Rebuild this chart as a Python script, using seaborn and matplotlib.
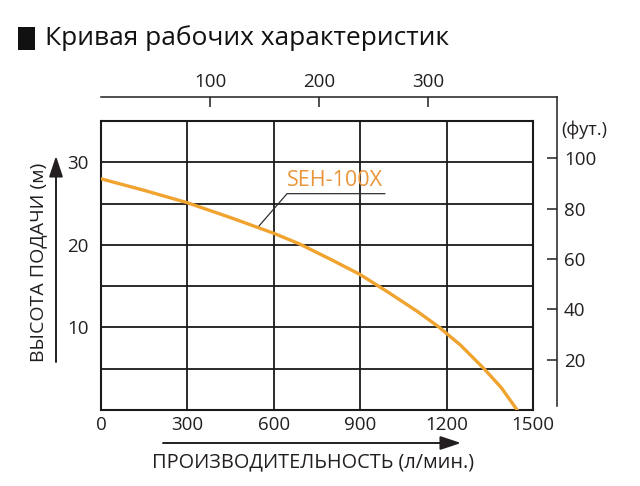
import numpy as np
import pandas as pd
import matplotlib
matplotlib.use("Agg")
from matplotlib import pyplot as plt
from matplotlib.patches import FancyArrowPatch, Rectangle
import seaborn as sns

# %% Data
flow_lpm = [0, 150, 300, 450, 600, 690, 800, 900, 1000, 1100, 1175, 1250, 1330, 1390, 1445]
head_m = [28.0, 26.6, 25.1, 23.3, 21.4, 20.1, 18.2, 16.4, 14.2, 11.9, 10.0, 7.8, 5.0, 2.7, 0.0]
model_name = "SEH-100X"

x_ticks = [0, 300, 600, 900, 1200, 1500]
y_grid = [0, 5, 10, 15, 20, 25, 30, 35]
y_labelled = [10, 20, 30]
gal_ticks = [100, 200, 300]
ft_ticks = [20, 40, 60, 80, 100]

LPM_PER_GAL = 3.7854
M_PER_FT = 0.3048

# %% Style
sns.set_style("white")
plt.rcParams["font.family"] = ["Open Sans", "DejaVu Sans"]
TEXT = "#231f20"
ORANGE = "#F0A32F"
ORANGE_TXT = "#E9963A"
TICK_SIZE = 13.5

W, H = 640, 486
fig = plt.figure(figsize=(6.4, 4.86), dpi=100)

# main plot box in pixels: left 101, right 533, top 121, bottom 410
px_l, px_r, px_t, px_b = 101, 533, 121, 410
ax = fig.add_axes([px_l / W, (H - px_b) / H, (px_r - px_l) / W, (px_b - px_t) / H])
xmax, ymax = 1500, 35
lpm_per_px = xmax / (px_r - px_l)
m_per_px = ymax / (px_b - px_t)

# outer frame with secondary units (gal/min on top, feet on right)
o_r, o_t, o_b = 557, 97, 406
ax2 = fig.add_axes([px_l / W, (H - o_b) / H, (o_r - px_l) / W, (o_b - o_t) / H], zorder=0)
ax2.set_facecolor("none")
ax2.set_xlim(0, (o_r - px_l) * lpm_per_px / LPM_PER_GAL)
ax2.set_ylim((px_b - o_b) * m_per_px / M_PER_FT, (px_b - o_t) * m_per_px / M_PER_FT)
for side in ["left", "bottom"]:
    ax2.spines[side].set_visible(False)
for side in ["top", "right"]:
    ax2.spines[side].set_color(TEXT)
    ax2.spines[side].set_linewidth(1.1)
ax2.xaxis.tick_top()
ax2.yaxis.tick_right()
ax2.set_xticks(gal_ticks)
ax2.set_yticks(ft_ticks)
ax2.tick_params(axis="x", direction="in", length=7, width=1.1, color=TEXT,
                labelsize=TICK_SIZE, labelcolor=TEXT, pad=4)
ax2.tick_params(axis="y", direction="in", length=7, width=1.1, color=TEXT,
                labelsize=TICK_SIZE, labelcolor=TEXT, pad=5)
ax2.text(1.01, 0.895, "(фут.)", transform=ax2.transAxes, fontsize=13,
         color=TEXT, ha="left", va="center")

# main chart
ax.set_zorder(1)
df = pd.DataFrame({"flow": flow_lpm, "head": head_m})
sns.lineplot(data=df, x="flow", y="head", color=ORANGE, lw=2.4, ax=ax, zorder=3)
ax.set_xlim(0, xmax)
ax.set_ylim(0, ymax)
ax.set_xticks(x_ticks)
ax.set_yticks(y_grid)
ax.set_yticklabels([str(v) if v in y_labelled else "" for v in y_grid])
ax.grid(True, color="#1a1a1a", lw=1.3)
for side in ax.spines:
    ax.spines[side].set_color("#1a1a1a")
    ax.spines[side].set_linewidth(1.5)
ax.tick_params(length=0, labelsize=TICK_SIZE, labelcolor=TEXT)
ax.tick_params(axis="y", pad=9)
ax.tick_params(axis="x", pad=4)
ax.set_xlabel("")
ax.set_ylabel("")

# model label with leader line
lead_x = [549, 646, 986]
lead_y = [22.3, 26.2, 26.2]
ax.plot(lead_x, lead_y, color="#333333", lw=0.9, zorder=4)
ax.text(646, 26.5, model_name, color=ORANGE_TXT, fontsize=15.5, ha="left", va="bottom", zorder=4)

# axis titles with arrows
fig.text(38 / W, 1 - 262 / H, "ВЫСОТА ПОДАЧИ (м)", rotation=90, ha="center", va="center",
         fontsize=14, color=TEXT)
fig.text(313 / W, 1 - 462 / H, "ПРОИЗВОДИТЕЛЬНОСТЬ (л/мин.)", ha="center", va="center",
         fontsize=14.3, color=TEXT)
arrow = dict(arrowstyle="-|>,head_length=0.9,head_width=0.3", color=TEXT, lw=1.4, shrinkA=0, shrinkB=0)
fig.add_artist(FancyArrowPatch((56 / W, 1 - 362 / H), (56 / W, 1 - 156 / H),
                               transform=fig.transFigure, mutation_scale=14, **arrow))
fig.add_artist(FancyArrowPatch((163 / W, 1 - 443 / H), (461 / W, 1 - 443 / H),
                               transform=fig.transFigure, mutation_scale=14, **arrow))

# title with the black square bullet
fig.add_artist(Rectangle((18 / W, 1 - 50 / H), 17 / W, 23 / H, transform=fig.transFigure,
                         facecolor="#111111", edgecolor="none"))
fig.text(45 / W, 1 - 38 / H, "Кривая рабочих характеристик", ha="left", va="center",
         fontsize=19, color="#111111")

fig.savefig("out.png", dpi=100)
